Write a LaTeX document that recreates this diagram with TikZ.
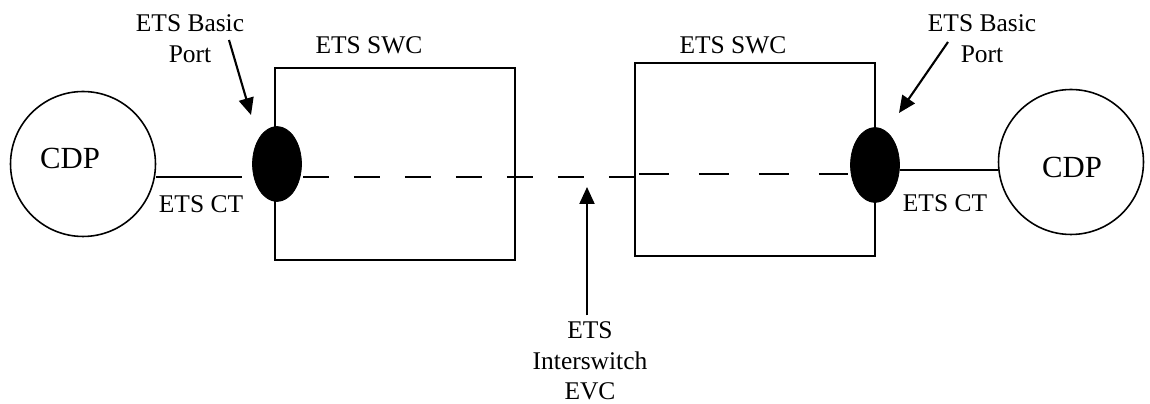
\documentclass[tikz,border=0pt]{standalone}
\usepackage{fontspec}
\setmainfont{Liberation Serif}
\usetikzlibrary{shapes.geometric,arrows.meta}

\begin{document}
\begin{tikzpicture}[x=0.02cm,y=-0.02cm,
  lbl/.style={font=\fontsize{14.5}{17.5}\selectfont,align=center},
  cdp/.style={draw,circle,line width=0.9pt,minimum size=2.9cm,inner sep=0pt},
  swc/.style={draw,rectangle,line width=1.1pt,minimum width=4.8cm,minimum height=3.85cm,inner sep=0pt},
  port/.style={draw,ellipse,fill=black,minimum width=0.98cm,minimum height=1.5cm,inner sep=0pt},
  pointer/.style={line width=1.2pt,-{Triangle[length=0.34cm,width=0.3cm]}},
  link/.style={line width=1.1pt}]

\useasboundingbox (0,0) rectangle (1150,404);

\node[cdp] (cdpL) at (83,164) {};
\node[font=\fontsize{17.5}{20}\selectfont] (cdpLtext) at (70,158) {CDP};
\node[cdp] (cdpR) at (1071,162) {};
\node[font=\fontsize{17.5}{20}\selectfont] (cdpRtext) at (1072,167) {CDP};

\node[swc] (swcL) at (395,164) {};
\node[swc] (swcR) at (755,159.5) {};
\node[lbl] (swcLtext) at (369,45.5) {ETS SWC};
\node[lbl] (swcRtext) at (733,45.5) {ETS SWC};

\coordinate (ctL) at (242,177);
\coordinate (ctR) at (900,170);
\coordinate (evcR) at (639,174);

\draw[link] (cdpL.east |- ctL) -- (ctL);
\draw[link] (ctR) -- (ctR -| cdpR.west);
\draw[link,dash pattern=on 0.52cm off 0.5cm] (303,177) -- (swcR.west |- ctL);
\draw[link,dash pattern=on 0.6cm off 0.6cm] (evcR) -- (848,174);

\node[port] (portL) at (277,164) {};
\node[port] (portR) at (875,165) {};

\node[lbl] (ctLtext) at (201,204) {ETS CT};
\node[lbl] (ctRtext) at (945,203) {ETS CT};

\node[lbl] (basicL) at (190,38.5) {ETS Basic\\Port};
\node[lbl] (basicR) at (982,38.5) {ETS Basic\\Port};
\coordinate (basicLtail) at (229,40);
\coordinate (basicLtip) at (251,115);
\coordinate (basicRtail) at (948,42);
\coordinate (basicRtip) at (899,113);
\draw[pointer] (basicLtail) -- (basicLtip);
\draw[pointer] (basicRtail) -- (basicRtip);

\node[lbl] (evc) at (590,361) {ETS\\Interswitch\\EVC};
\coordinate (evcTip) at (587,187);
\draw[pointer] (evc.north -| evcTip) -- (evcTip);
\end{tikzpicture}
\end{document}
